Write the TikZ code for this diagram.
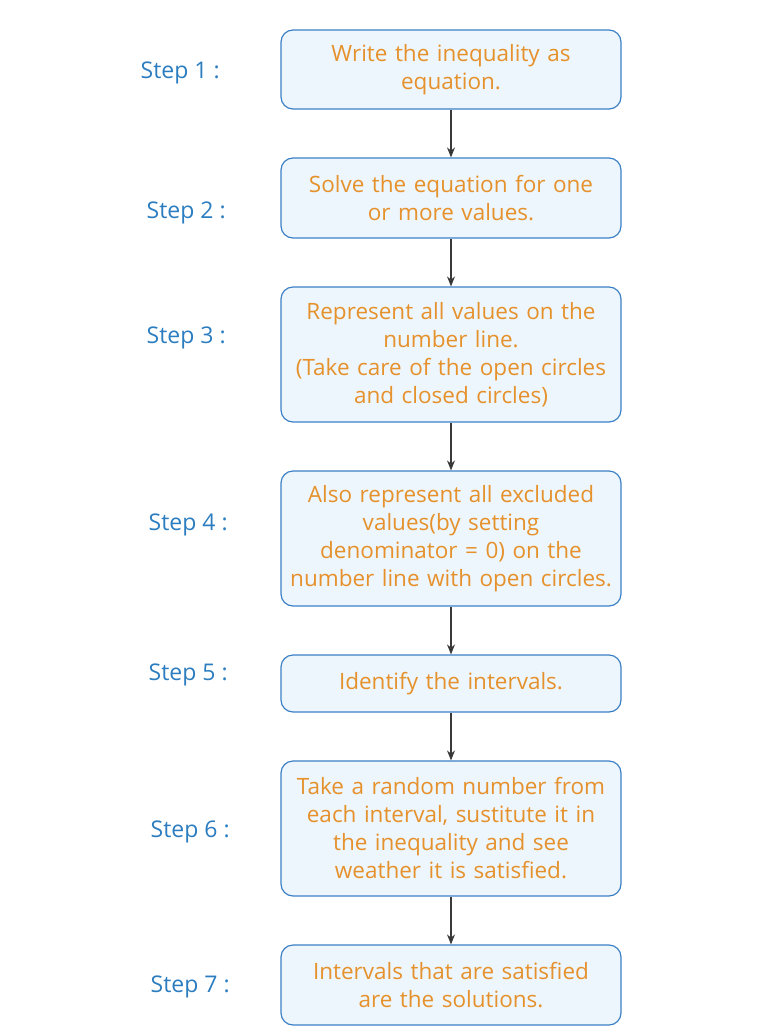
\documentclass[tikz,border=0pt]{standalone}
\usepackage{fontspec}
\setmainfont{Open Sans}
\usetikzlibrary{positioning}
\usetikzlibrary{arrows.meta}
\definecolor{boxfill}{HTML}{EEF6FD}
\definecolor{boxline}{HTML}{3C80C6}
\definecolor{boxtext}{HTML}{E5912C}
\definecolor{labeltext}{HTML}{2C7DC0}
\definecolor{arrowline}{HTML}{3A3A3A}

\begin{document}
\begin{tikzpicture}[->, >={Stealth[length=10pt,width=8pt]}, line width=1.4pt, node distance=47.8pt, x=1pt, y=1pt]
    \tikzstyle{stepbox}=[draw=boxline, line width=1.2pt, fill=boxfill, rounded corners=12pt, text=boxtext, text width=334pt, inner xsep=3pt, inner ysep=0pt, align=center, font=\fontsize{22.5}{28}\selectfont]
    \tikzstyle{steplabel}=[text=labeltext, font=\fontsize{23}{26}\selectfont, inner sep=0pt]
    \useasboundingbox (0,0) rectangle (760,-1036);
    \node[stepbox, minimum height=79pt] (s1) at (451,-69.5) {Write the inequality as\\equation.};
    \node[stepbox, minimum height=80pt] (s2)[below=of s1] {Solve the equation for one\\or more values.};
    \node[stepbox, minimum height=135pt] (s3)[below=of s2] {Represent all values on the\\number line.\\(Take care of the open circles\\and closed circles)};
    \node[stepbox, minimum height=135pt] (s4)[below=of s3] {Also represent all excluded\\values(by setting\\denominator = 0) on the\\number line with open circles.};
    \node[stepbox, minimum height=57pt] (s5)[below=of s4] {Identify the intervals.};
    \node[stepbox, minimum height=135pt] (s6)[below=of s5] {Take a random number from\\each interval, sustitute it in\\the inequality and see\\weather it is satisfied.};
    \node[stepbox, minimum height=80pt] (s7)[below=of s6] {Intervals that are satisfied\\are the solutions.};
    % step labels
    \node[steplabel] (l1)[left=60pt of s1, yshift=-3.5pt]  {Step 1 :};
    \node[steplabel] (l2)[left=54pt of s2, yshift=-15pt]   {Step 2 :};
    \node[steplabel] (l3)[left=54pt of s3, yshift=16.5pt]  {Step 3 :};
    \node[steplabel] (l4)[left=52pt of s4, yshift=13.5pt]  {Step 4 :};
    \node[steplabel] (l5)[left=52pt of s5, yshift=8.5pt]   {Step 5 :};
    \node[steplabel] (l6)[left=50pt of s6, yshift=-3.5pt]  {Step 6 :};
    \node[steplabel] (l7)[left=50pt of s7, yshift=-2pt]    {Step 7 :};
    \path[draw=arrowline]
    (s1) edge (s2)
    (s2) edge (s3)
    (s3) edge (s4)
    (s4) edge (s5)
    (s5) edge (s6)
    (s6) edge (s7);
\end{tikzpicture}
\end{document}
